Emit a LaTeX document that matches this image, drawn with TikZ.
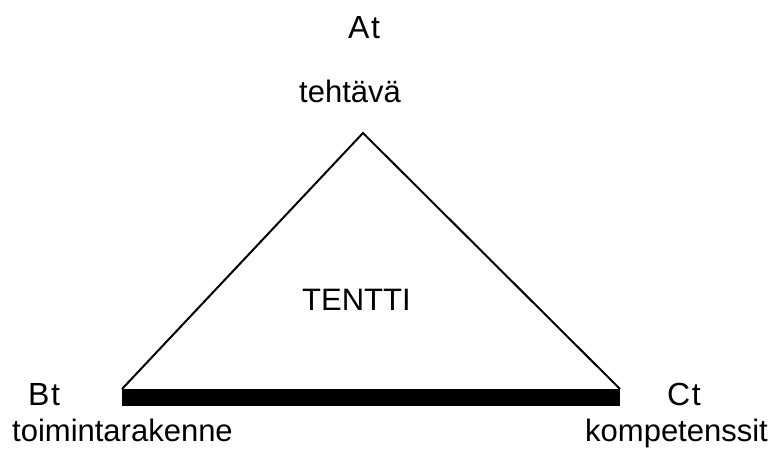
\documentclass[tikz,border=0pt]{standalone}
\usepackage{fontspec}
\setmainfont{Liberation Sans}
\newfontfamily\spacedfont[LetterSpace=5]{Liberation Sans}
\begin{document}
\begin{tikzpicture}[x=1pt,y=-1pt,
  lbl/.style={inner sep=0pt,anchor=base west,font=\fontsize{31}{36}\selectfont},
  corner/.style={inner sep=0pt,anchor=base west,font=\spacedfont\fontsize{32}{36}\selectfont},
  side/.style={line width=2pt,line join=miter},
  bar/.style={fill=black}]
\useasboundingbox (0,0) rectangle (778,458);
\coordinate (A) at (363,133);
\coordinate (B) at (122,389);
\coordinate (C) at (620,389);
\coordinate (Cb) at (620,406);
\draw[side] (B) -- (A) -- (C);
\fill[bar] (B) rectangle (Cb);
\node[corner] (at) at (348,38) {At};
\node[lbl] (teh) at (299,102) {tehtävä};
\node[lbl,font=\fontsize{31}{36}\selectfont] (tentti) at (302,310) {TENTTI};
\node[corner] (bt) at (28,405) {Bt};
\node[corner] (ct) at (667,405) {Ct};
\node[lbl] (toim) at (12,441) {toimintarakenne};
\node[lbl] (komp) at (585,441) {kompetenssit};
\end{tikzpicture}
\end{document}
